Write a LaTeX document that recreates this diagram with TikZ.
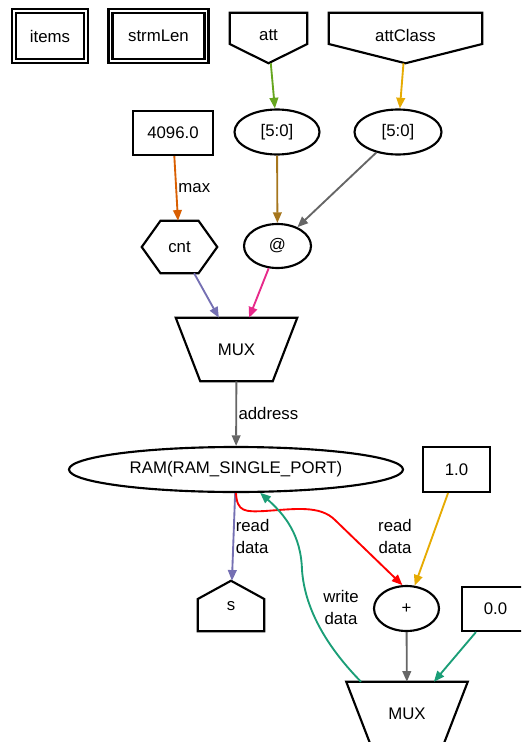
\documentclass[tikz,border=0pt]{standalone}
\usepackage{fontspec}
\setmainfont{Liberation Sans}
\usetikzlibrary{shapes.geometric,arrows.meta}
\definecolor{cTeal}{HTML}{1B9E77}
\definecolor{cOrange}{HTML}{D95F02}
\definecolor{cPurple}{HTML}{7570B3}
\definecolor{cPink}{HTML}{E7298A}
\definecolor{cGreen}{HTML}{66A61E}
\definecolor{cYellow}{HTML}{E6AB02}
\definecolor{cBrown}{HTML}{A6761D}
\definecolor{cGray}{HTML}{666666}

\begin{document}
\begin{tikzpicture}[x=0.75pt, y=0.75pt,
  every node/.style={font=\fontsize{12.6}{16.5}\selectfont, inner sep=1pt, align=center},
  border/.style={line width=1.6pt},
  dbox/.style={draw, double, double distance=1.4pt, line width=1.6pt, minimum height=37.5pt},
  pbox/.style={draw, border, minimum height=33pt},
  oval/.style={draw, ellipse, border, minimum height=33.75pt},
  frame/.style={minimum height=37.5pt},
  mux/.style={minimum width=90.75pt, minimum height=47.25pt},
  wire/.style={line width=1.4pt, -{Triangle[length=8pt,width=6.5pt]}}]
  % Page
  \useasboundingbox (0,0) rectangle (521,-742);
  \clip (0,0) rectangle (521,-742);

  % Nodes
  \node[dbox, minimum width=53.6pt] (items) at (50,-36) {items};
  \node[dbox, minimum width=72pt] (strmLen) at (158.5,-36) {strmLen};
  \node[frame, text depth=4pt, minimum width=57.75pt] (att) at (268.5,-38) {att};
  \node[frame, text depth=4pt, minimum width=114.75pt] (attClass) at (405.5,-38) {attClass};
  \node[pbox, minimum width=60pt] (cst4096) at (173,-133) {4096.0};
  \node[oval, minimum width=63.75pt] (sliceAtt) at (277,-132) {[5:0]};
  \node[oval, minimum width=65.25pt] (sliceCls) at (398,-132) {[5:0]};
  \node[frame, minimum width=56.25pt, minimum height=39pt] (cnt) at (179.5,-247) {cnt};
  \node[oval, minimum width=50.25pt, minimum height=33pt] (cat) at (277.5,-246) {@};
  \node[mux] (muxAddr) at (236.5,-349.5) {MUX};
  \node[oval, minimum width=250.5pt] (ram) at (236,-469.5) {RAM(RAM\_SINGLE\_PORT)};
  \node[pbox, minimum width=50.25pt, minimum height=33.75pt] (cst1) at (456.5,-469.5) {1.0};
  \node[frame, minimum width=49.5pt] (sOut) at (231,-606) {s};
  \node[oval, minimum width=48.75pt] (plus) at (406.5,-608.5) {+};
  \node[pbox, minimum width=50.25pt] (cst0) at (495.5,-609) {0.0};
  \node[mux] (muxData) at (407,-713.5) {MUX};

  % Outlines
  \foreach \n in {att,attClass}
    \draw[border] (\n.north west) -- (\n.north east) -- ([yshift=-4.5pt]\n.east)
      -- (\n.south) -- ([yshift=-4.5pt]\n.west) -- cycle;
  \foreach \n in {muxAddr,muxData}
    \draw[border] (\n.north west) -- (\n.north east) -- ([xshift=-18.4pt]\n.south east)
      -- ([xshift=18.4pt]\n.south west) -- cycle;
  \draw[border] ([xshift=-14.25pt]cnt.north) -- ([xshift=14.25pt]cnt.north) -- (cnt.east)
    -- ([xshift=14.25pt]cnt.south) -- ([xshift=-14.25pt]cnt.south) -- (cnt.west) -- cycle;
  \draw[border] (sOut.south west) -- (sOut.south east) -- ([yshift=5.25pt]sOut.east)
    -- (sOut.north) -- ([yshift=5.25pt]sOut.west) -- cycle;

  % Edges
  \draw[wire, cOrange] (cst4096) -- node[right, text=black] {max} (cnt);
  \draw[wire, cGreen] (att) -- (sliceAtt);
  \draw[wire, cYellow] (attClass) -- (sliceCls);
  \draw[wire, cBrown] (sliceAtt) -- (cat);
  \draw[wire, cGray] (sliceCls) -- (cat);
  \draw[wire, cPurple] (cnt) -- (muxAddr);
  \draw[wire, cPink] (cat) -- (muxAddr);
  \draw[wire, cGray] (muxAddr) -- node[right, text=black] {address} (ram);
  \draw[wire, cPurple] (ram) -- node[right, align=left, text=black] {read\\data} (sOut);
  \draw[wire, red] (ram.south) .. controls (237,-512) and (245,-512) .. (265,-511)
    .. controls (295,-509) and (320,-505) .. (335,-520) -- (plus.100);
  \draw[wire, cYellow] (cst1) -- (plus);
  \draw[wire, cGray] (plus) -- (muxData);
  \draw[wire, cTeal] (cst0) -- (muxData);
  \draw[wire, cTeal] ([xshift=-34.5pt]muxData.north) .. controls (330,-650) and (305,-612) .. (302,-570)
    .. controls (301,-535) and (285,-515) .. (ram.-44);
  \node (lblRead) at (395,-536) {read\\data};
  \node (lblWrite) at (341,-607) {write\\data};
\end{tikzpicture}
\end{document}
